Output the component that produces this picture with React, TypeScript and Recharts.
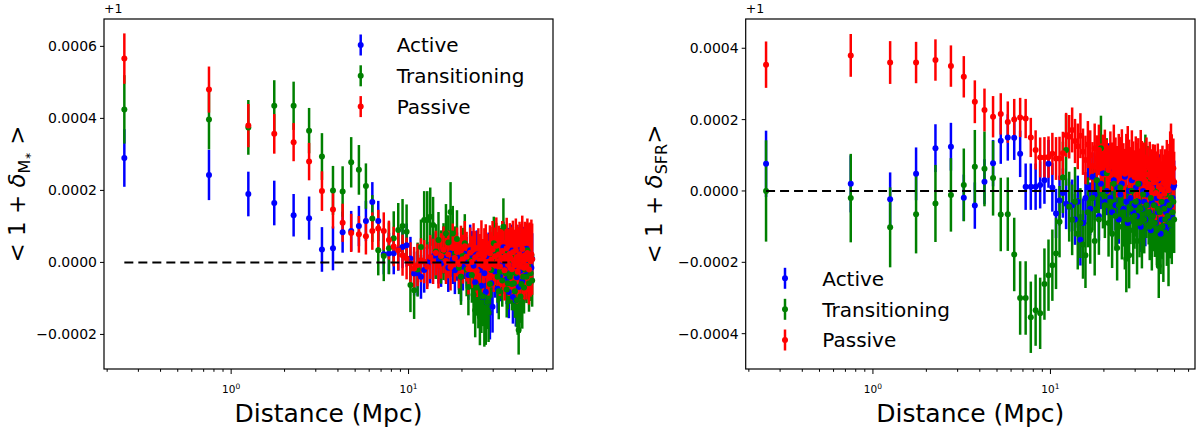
import React from "react";
import { ScatterChart, Scatter, XAxis, YAxis, ErrorBar, ReferenceLine } from "recharts";

const FONT = "DejaVu Sans, sans-serif";

// Distance (Mpc) bins
const distances = [
  0.25, 0.75, 1.25, 1.75, 2.25, 2.75, 3.25, 3.75, 4.25, 4.75,
  5.25, 5.75, 6.25, 6.75, 7.25, 7.75, 8.25, 8.75, 9.25, 9.75,
  10.25, 10.75, 11.25, 11.75, 12.25, 12.75, 13.25, 13.75, 14.25, 14.75,
  15.25, 15.75, 16.25, 16.75, 17.25, 17.75, 18.25, 18.75, 19.25, 19.75,
  20.25, 20.75, 21.25, 21.75, 22.25, 22.75, 23.25, 23.75, 24.25, 24.75,
  25.25, 25.75, 26.25, 26.75, 27.25, 27.75, 28.25, 28.75, 29.25, 29.75,
  30.25, 30.75, 31.25, 31.75, 32.25, 32.75, 33.25, 33.75, 34.25, 34.75,
  35.25, 35.75, 36.25, 36.75, 37.25, 37.75, 38.25, 38.75, 39.25, 39.75,
  40.25, 40.75, 41.25, 41.75, 42.25, 42.75, 43.25, 43.75, 44.25, 44.75,
  45.25, 45.75, 46.25, 46.75, 47.25, 47.75, 48.25, 48.75, 49.25, 49.75,
];

// Values in units of 1e-5 (offset +1)
const activeMass = [
  29, 24.3, 19, 16.5, 13.1, 12.3, 3.6, 3.9, 8.4, 8.7,
  10.1, 11.5, 16.8, 11.5, 2.3, 2.5, 2.5, 3.5, 4.3, 4.8,
  1.1, -3.1, -3, -4, -2.1, -0.5, 0.6, 1.7, 2, 0.5,
  -0.3, 3.4, 1.2, -1.5, 2.5, 0.8, -2.2, 1.6, -0.8, -4,
  -1.2, 2.4, 0.3, -3.5, 3.4, 1.8, -0.9, -5.5, 2.2, 0.7,
  -2.1, -6.5, -9.6, -3, -8.2, -11, 1.5, -14, -5.8, -12.3,
  2.8, -2.5, 0.9, -7.3, 1.2, -3.8, 2.4, -0.6, 4.2, -1.9,
  0.6, -4.6, 2.9, -8.2, 0.4, -2.7, 3.3, -9.6, -1.1, 1.9,
  -10.5, -4.1, 1.6, -6.8, 3.4, -2.3, 0.8, -5.2, 2.6, -1.4,
  1.1, -3.6, 3.8, 0.2, -2.9, 1.7, -0.7, 2.1, -1.5, 1.0,
];
const activeMassErr = [
  8, 7, 6.2, 6.2, 5.9, 6, 6.2, 6.1, 5.7, 5.6,
  5.6, 5.6, 5.5, 5.6, 5.6, 5.7, 5.8, 5.8, 5.9, 6,
  6, 6.1, 6.2, 6.1, 6.3, 6.2, 6.4, 6.3, 6.5, 6.4,
  6.5, 6.6, 6.4, 6.7, 6.5, 6.8, 6.6, 6.7, 6.9, 6.8,
  6.6, 7, 6.8, 6.9, 7.1, 6.9, 7.2, 7, 6.7, 7.1,
  7, 6.8, 7.2, 6.9, 7.3, 7.1, 6.8, 7.4, 7, 7.2,
  6.9, 7.3, 7.1, 6.8, 7.2, 7, 6.9, 7.4, 7.1, 6.8,
  7.2, 7, 6.7, 7.3, 7.1, 6.9, 7.2, 7.4, 7, 6.8,
  7.3, 7.1, 6.9, 7.2, 7, 7.4, 6.8, 7.1, 7.3, 6.9,
  7, 7.2, 6.8, 7.1, 7.3, 6.9, 7.2, 7, 6.8, 7.1,
];
const transMass = [
  42.5, 39.7, 37.5, 43.5, 43.5, 36.6, 29.4, 20, 19.7, 27.8,
  25.7, 21.2, 12.2, 3.4, 1.8, 3.9, 6.7, 9, 10.1, 8.5,
  -6.3, -7.7, -2, 4.3, 11.8, 11.8, 12.7, 10.4, 3, 6.2,
  1.5, 3, 8, 5.5, 14, 8, 2.5, 6.5, -1.5, -4,
  2, 5.3, -2, -6.8, 0.5, -3.5, -9, -13.3, -7, -11,
  -15.1, -12, -9.5, -16, -15.1, -11, -14, -6, -2.1, 2,
  5.3, 1, 3.4, -4, -8, -2.6, 1.5, -5, 9.9, 3,
  -3, -7.5, -5.8, 0.5, -4, -3, -6, 2, -5.8, -8,
  -3, -10.5, -13, -18.8, -12, -9.5, -6, -11, -4, -7,
  -2, 1.5, -4, 3.4, -1, -5.8, 0.5, -3, 2, -5,
];
const transMassErr = [
  9.5, 8.3, 7.6, 7.1, 6.7, 6.3, 6.5, 6.8, 7, 7,
  6.9, 6.3, 6.5, 7, 7, 7.2, 7.5, 7.5, 7.5, 7.6,
  7.5, 8, 7.5, 7.6, 8, 8, 8.1, 7.8, 7.6, 7.8,
  7.4, 7.9, 8.2, 7.6, 8.3, 7.7, 7.5, 8, 7.3, 7.8,
  7.6, 8.1, 7.4, 7.9, 7.2, 7.7, 8, 7.5, 7.8, 7.3,
  7.9, 7.6, 8.2, 7.4, 7.8, 7.5, 8.1, 7.3, 7.7, 7.9,
  7.4, 8, 7.6, 7.2, 7.8, 7.5, 8.1, 7.3, 7.9, 7.6,
  7.4, 7.8, 7.2, 8, 7.5, 7.7, 7.3, 7.9, 7.6, 7.4,
  7.8, 7.5, 7.1, 6.8, 7.6, 7.3, 7.9, 7.4, 7.7, 7.2,
  7.5, 7.8, 7.3, 7.6, 7.4, 7.9, 7.2, 7.7, 7.5, 7.3,
];
const passiveMass = [
  56.6, 48, 38, 35.7, 33.4, 28, 19.8, 14.7, 11, 8.2,
  7.8, 7.3, 8.7, 9.4, 8.7, 6.2, 4.4, 3.4, 2, 1.1,
  -0.3, -1.7, -0.7, 0.6, 0.2, -1.2, 1.5, 0.3, 2.6, -0.8,
  1.8, 3.5, 0.4, 2.2, -1.3, 4.1, 1.2, 2.9, -0.5, 3.3,
  0.9, 4.5, 1.6, -1.8, 2.7, 0.1, 3.8, 1.4, -2.4, 2.1,
  0.6, 4.2, -0.9, 1.9, 3.1, 0.2, -1.6, 2.5, 0.8, 3.6,
  -0.4, 1.7, 4.6, 0.3, 2.2, -1.1, 1.3, 3.2, 0.5, -2.2,
  1.8, 3.9, 0.9, -0.7, 2.4, 1.1, -1.9, 2.8, 0.4, -0.8,
  3.4, 1.5, -2.6, 0.7, 2.3, -1.2, 1.6, 3.7, 0.2, -1.5,
  2.0, 0.8, -0.9, 2.6, 1.2, -2.0, 1.5, 0.3, 2.2, 0.9,
];
const passiveMassErr = [
  7, 6.4, 6, 5.5, 5.3, 5.2, 5.5, 5.3, 5.3, 5.3,
  5.1, 5.1, 5.2, 5.2, 5.2, 5.4, 5.5, 5.6, 5.7, 5.8,
  5.9, 6, 5.9, 6.1, 6, 6.2, 6.1, 6.3, 6.2, 6.4,
  6.3, 6.5, 6.4, 6.6, 6.5, 6.7, 6.6, 6.8, 6.7, 6.9,
  6.8, 7, 6.9, 7.1, 7, 7.2, 7.1, 7.3, 7.2, 7.4,
  7.3, 7.5, 7.4, 7.6, 7.5, 7.7, 7.6, 7.8, 7.7, 7.9,
  7.8, 8, 7.9, 8.1, 8, 8.2, 8.1, 8.3, 8.2, 8.4,
  8.3, 8.5, 8.4, 8.6, 8.5, 8.7, 8.6, 8.8, 8.7, 8.9,
  8.8, 9, 8.9, 9.1, 9, 9.2, 9.1, 9.3, 9.2, 9.4,
  9.3, 9.5, 9.4, 9.6, 9.5, 9.7, 9.6, 9.8, 9.7, 9.9,
];

const activeSfr = [
  7.6, 2, -2.3, 4.8, 12, 12.4, -1.9, -4.1, 2.6, 7.8,
  14.1, 15, 14.9, 10.4, 1.2, 1.2, 1.2, 1.7, 3, 7.6,
  1, -6.3, -2.7, -0.6, -3.6, -4.4, -4, -8, -3, -13.7,
  -9, -2, 1, -5, 4, -1, 3, -7, 2, 5,
  -3, 0, 6, -2, -6, 3, -4, 1, -8, -1,
  2, -5, 4, -3, -9, 0, -2, 3, -6, -4,
  1, -7, -3, 2, -10, -5, 0, -3, -8, -1,
  -4, 2, -6, -11, -3, -7, 1, -4, -9, -2,
  -6, 3, -5, -12, -8, -1, -4, 2, -10, -6,
  -3, -8, 0, -5, -11, -4, -7, -2, 1, 1.5,
];
const activeSfrErr = [
  9.3, 8, 7.5, 7.4, 6.7, 6.7, 6.5, 6.5, 6.3, 6.5,
  6.5, 6.5, 6.2, 6.5, 6.5, 6.5, 6.5, 6.6, 6.6, 6.7,
  6.8, 6.9, 7, 6.9, 7.1, 7, 7.2, 7.1, 7.3, 7.2,
  6.9, 7.3, 7, 7.4, 6.8, 7.2, 7.5, 6.9, 7.1, 7.3,
  7, 6.8, 7.4, 7.1, 6.9, 7.3, 7, 7.5, 6.8, 7.2,
  7.1, 6.9, 7.4, 7, 7.3, 6.8, 7.2, 7.5, 6.9, 7.1,
  7.3, 7, 6.8, 7.4, 7.1, 6.9, 7.3, 7, 7.5, 6.8,
  7.2, 7.1, 6.9, 7.4, 7, 7.3, 6.8, 7.2, 7.5, 6.9,
  7.1, 7.3, 7, 6.8, 7.4, 7.1, 6.9, 7.3, 7, 7.5,
  6.8, 7.2, 7.1, 6.9, 7.4, 7, 7.3, 6.8, 7.2, 7,
];
const transSfr = [
  0, -2, -10.2, -6.5, -3.5, -1.1, 1.7, 6.8, 6.2, 3.6,
  -6.6, -6.5, -17.8, -30, -30, -35.4, -33.4, -34.3, -26.1, -23.6,
  -20.8, -17.5, -8.6, 3.8, 11.5, -4.4, -8.1, -3, -12, -9,
  -15, -18, -6, -11, -2, -14, 3, -8, 12, -1,
  -4, 5, -9, -3, -12, 2, -7, -16, -4, 1,
  -10, -6, -13, -19, -8, -18, -5, 0, -11, -7,
  -3, -14, 2, -9, -5, -12, -1, -8, 6, -4,
  3, -6, -10, -2, -13, -7, -4, -9, 0, -11,
  -5, -21, -6, -14, -3, -10, -16, -5, -8, -1,
  -12, -7, -17, -4, -9, -2, -11, -6, -3, -8,
];
const transSfrErr = [
  14.2, 12.4, 11.2, 11, 10.8, 10.3, 10.2, 10.3, 10.5, 10.5,
  10.3, 10.3, 10.3, 10.3, 10.3, 10, 10, 10, 10, 10,
  10, 10, 10, 10, 10, 9.8, 9.9, 9.7, 10, 9.8,
  9.6, 9.2, 9.8, 9.4, 9, 9.7, 9.3, 9.9, 9.1, 9.5,
  9.2, 9.8, 9.4, 9, 9.6, 9.3, 9.7, 9.1, 9.5, 9.8,
  9.2, 9.6, 9, 9.4, 9.7, 9.3, 9.9, 9.1, 9.5, 9.2,
  9.8, 9.4, 9, 9.6, 9.3, 9.7, 9.1, 9.5, 9.8, 9.2,
  9.6, 9, 9.4, 9.7, 9.3, 9.9, 9.1, 9.5, 9.2, 9.8,
  9.4, 9, 9.6, 9.3, 9.7, 9.1, 9.5, 9.8, 9.2, 9.6,
  9, 9.4, 9.7, 9.3, 9.9, 9.1, 9.5, 9.2, 9.8, 9.4,
];
const passiveSfr = [
  35.4, 38, 36, 36, 36.7, 35, 32, 25, 22.7, 20.8,
  21.6, 19.3, 20, 20.6, 20.3, 15, 11.5, 9.4, 9.4, 9.5,
  10.4, 9.1, 9.1, 10.6, 15.7, 15.2, 17.1, 14, 12.5, 15.5,
  11, 8.7, 13, 10, 7, 12, 9, 11.5, 6.5, 8.8,
  10.5, 7.2, 5.9, 9.6, 6.8, 11.3, 8, 5.4, 9.1, 7.7,
  10.2, 6.1, 4.8, 8.5, 11, 7, 5.2, 9.4, 6.6, 3.9,
  8.1, 5.7, 7.4, 4.3, 9.8, 6.2, 3.5, 5.9, 2.8, 7.1,
  4.6, 1.9, 6.3, 3.7, 0.8, 5.2, 2.4, 4.9, -0.6, 3.1,
  5.6, 1.2, -1.5, 3.6, 0.5, 4.4, 2.2, -0.8, 3.8, 1.6,
  6.2, 2.9, 0.2, 4.7, 8.5, 10.5, 7.8, 3.2, 6.4, 2.5,
];
const passiveSfrErr = [
  6.5, 6, 6, 5.8, 5.8, 5.8, 5.8, 6, 6, 5.8,
  5.8, 5.8, 5.8, 5.5, 5.5, 5.5, 5.5, 5.6, 5.7, 5.8,
  5.9, 6, 6.1, 6, 6.2, 6.1, 6.3, 6.2, 6.4, 6.3,
  6.5, 6.8, 6.6, 7, 6.7, 6.9, 6.6, 7.1, 6.8, 7,
  6.7, 7.2, 6.9, 7.1, 6.8, 7.3, 7, 7.2, 6.9, 7.4,
  7.1, 7.3, 7, 7.5, 7.2, 7.4, 7.1, 7.6, 7.3, 7.5,
  7.2, 7.7, 7.4, 7.6, 7.3, 7.8, 7.5, 7.7, 7.4, 7.9,
  7.6, 7.8, 7.5, 8, 7.7, 7.9, 7.6, 8.1, 7.8, 8,
  7.7, 8.2, 7.9, 8.1, 7.8, 8.3, 8, 8.2, 7.9, 8.4,
  8.1, 8.3, 8, 8.5, 8.2, 8.4, 8.1, 8.6, 8.3, 8.5,
];

const seriesNames = ["Active", "Transitioning", "Passive"];
const seriesColors = ["#0000ff", "#008000", "#ff0000"];

const xTicks = [0.2, 0.3, 0.4, 0.5, 0.6, 0.7, 0.8, 0.9, 1, 2, 3, 4, 5, 6, 7, 8, 9, 10, 20, 30, 40, 50, 60];
const xMajorTicks = [1, 10];
const xMajorExponents = ["0", "1"];
const xDomain = [0.192, 65.2];
const zeroLineSpan = [0.25, 36];

const yTicksMass = [-20, 0, 20, 40, 60];
const yTickLabelsMass = ["\u22120.0002", "0.0000", "0.0002", "0.0004", "0.0006"];
const yDomainMass = [-29.6, 67.6];

const yTicksSfr = [-40, -20, 0, 20, 40];
const yTickLabelsSfr = ["\u22120.0004", "\u22120.0002", "0.0000", "0.0002", "0.0004"];
const yDomainSfr = [-49.9, 48.2];

const rows = (vals: number[], errs: number[]) =>
  distances.map((d, i) => ({ x: d, y: vals[i], e: errs[i] }));

const massSeries = [rows(activeMass, activeMassErr), rows(transMass, transMassErr), rows(passiveMass, passiveMassErr)];
const sfrSeries = [rows(activeSfr, activeSfrErr), rows(transSfr, transSfrErr), rows(passiveSfr, passiveSfrErr)];

const XTick = (props: any) => {
  const { x, y, payload } = props;
  const idx = xMajorTicks.indexOf(payload.value);
  const major = idx >= 0;
  return (
    <g>
      <line x1={x} x2={x} y1={y} y2={y + (major ? 5 : 2.8)} stroke="#000" strokeWidth={1} />
      {major && (
        <text x={x} y={y + 24} textAnchor="middle" fontSize={10.5} fontFamily={FONT} fill="#000">
          10<tspan dy={-4.5} fontSize={7.5}>{xMajorExponents[idx]}</tspan>
        </text>
      )}
    </g>
  );
};

function Panel(props: {
  left: number;
  yAxisWidth: number;
  marginRight: number;
  yDomain: number[];
  yTicks: number[];
  yTickLabels: string[];
  series: { x: number; y: number; e: number }[][];
}) {
  const { left, yAxisWidth, marginRight, yDomain, yTicks, yTickLabels, series } = props;
  return (
    <div style={{ position: "absolute", left, top: 0 }}>
      <ScatterChart width={600} height={431} margin={{ top: 19, right: marginRight, bottom: 0, left: 0 }}>
        <XAxis
          type="number"
          dataKey="x"
          scale="log"
          domain={xDomain}
          allowDataOverflow
          ticks={xTicks}
          interval={0}
          tickSize={0}
          tickMargin={0}
          tick={<XTick />}
          axisLine={false}
          height={62}
        />
        <YAxis
          type="number"
          dataKey="y"
          domain={yDomain}
          allowDataOverflow
          ticks={yTicks}
          interval={0}
          width={yAxisWidth}
          tickSize={4}
          tickMargin={3}
          tickFormatter={(v: number) => yTickLabels[yTicks.indexOf(v)]}
          tick={{ fontSize: 14, fill: "#000", fontFamily: FONT }}
          tickLine={{ stroke: "#000" }}
          axisLine={false}
        />
        {series.map((data, i) => (
          <Scatter
            key={seriesNames[i]}
            name={seriesNames[i]}
            data={data}
            fill={seriesColors[i]}
            isAnimationActive={false}
            shape={(p: any) => <circle cx={p.cx} cy={p.cy} r={3} fill={seriesColors[i]} />}
          >
            <ErrorBar dataKey="e" direction="y" width={0} strokeWidth={2.5} stroke={seriesColors[i]} isAnimationActive={false} />
          </Scatter>
        ))}
        <ReferenceLine
          segment={[{ x: zeroLineSpan[0], y: 0 }, { x: zeroLineSpan[1], y: 0 }]}
          stroke="#000"
          strokeWidth={2}
          strokeDasharray="9 5"
          {...({ zIndex: 1500 } as any)}
        />
      </ScatterChart>
    </div>
  );
}

function LegendBlock(props: { mx: number; tx: number; ys: number[] }) {
  const { mx, tx, ys } = props;
  return (
    <g>
      {seriesNames.map((n, i) => (
        <g key={n}>
          <line x1={mx} x2={mx} y1={ys[i] - 10.5} y2={ys[i] + 10.5} stroke={seriesColors[i]} strokeWidth={2.5} />
          <circle cx={mx} cy={ys[i]} r={3} fill={seriesColors[i]} />
          <text x={tx} y={ys[i] + 7.3} fontSize={20} fontFamily={FONT} fill="#000">{n}</text>
        </g>
      ))}
    </g>
  );
}

export default function App() {
  return (
    <div style={{ position: "absolute", left: 0, top: 0, width: 1200, height: 431, background: "#fff", overflow: "hidden" }}>
      <Panel left={0} yAxisWidth={104} marginRight={47} yDomain={yDomainMass} yTicks={yTicksMass} yTickLabels={yTickLabelsMass} series={massSeries} />
      <Panel left={600} yAxisWidth={145.7} marginRight={5} yDomain={yDomainSfr} yTicks={yTicksSfr} yTickLabels={yTickLabelsSfr} series={sfrSeries} />
      <svg width={1200} height={431} style={{ position: "absolute", left: 0, top: 0, pointerEvents: "none" }}>
        <rect x={104} y={19} width={449} height={350} fill="none" stroke="#000" strokeWidth={1.2} />
        <rect x={745.7} y={19} width={449.3} height={350} fill="none" stroke="#000" strokeWidth={1.2} />
        <text x={104} y={13} fontSize={12.5} fontFamily={FONT} fill="#000">+1</text>
        <text x={745.7} y={13} fontSize={12.5} fontFamily={FONT} fill="#000">+1</text>
        <text x={328.5} y={421.5} textAnchor="middle" fontSize={25} fontFamily={FONT} fill="#000">Distance (Mpc)</text>
        <text x={970.3} y={421.5} textAnchor="middle" fontSize={25} fontFamily={FONT} fill="#000">Distance (Mpc)</text>
        <text transform="translate(25,194) rotate(-90)" textAnchor="middle" fontSize={23} fontFamily={FONT} fill="#000" style={{ whiteSpace: "pre" }}>
          {"< 1 + "}
          <tspan fontStyle="italic">{"\u03b4"}</tspan>
          <tspan fontSize={16} dy={5}>M</tspan>
          <tspan fontSize={9} dy={1}>{"\u2217"}</tspan>
          <tspan fontSize={23} dy={-6}>{" >"}</tspan>
        </text>
        <text transform="translate(661.7,194) rotate(-90)" textAnchor="middle" fontSize={23} fontFamily={FONT} fill="#000" style={{ whiteSpace: "pre" }}>
          {"< 1 + "}
          <tspan fontStyle="italic">{"\u03b4"}</tspan>
          <tspan fontSize={16} dy={5}>SFR</tspan>
          <tspan fontSize={23} dy={-5}>{">"}</tspan>
        </text>
        <LegendBlock mx={360.7} tx={396.7} ys={[45, 75.8, 106.6]} />
        <LegendBlock mx={785} tx={822.3} ys={[278.3, 309.3, 340]} />
      </svg>
    </div>
  );
}
